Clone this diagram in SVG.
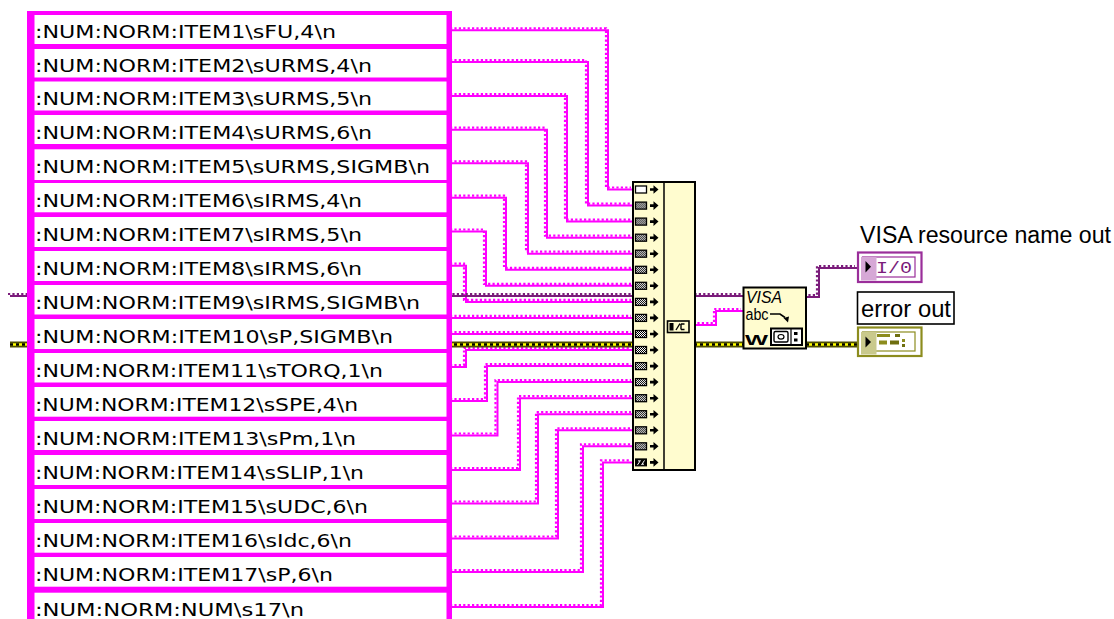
<svg xmlns="http://www.w3.org/2000/svg" xmlns:xlink="http://www.w3.org/1999/xlink" width="1114" height="619" viewBox="0 0 1114 619">
<style>
.sb{fill:none;stroke:#FF00FF;stroke-width:2}
.sd{fill:none;stroke:#FF00FF;stroke-width:2.2;stroke-dasharray:2.2 2.2}
.vb{fill:none;stroke:#7B1C7B;stroke-width:2}
.vd{fill:none;stroke:#7B1C7B;stroke-width:2.2;stroke-dasharray:2.2 2.2}
.eo{fill:none;stroke:#4E4E00;stroke-width:6}
.ey{fill:none;stroke:#FFFF00;stroke-width:2.4}
.ek{fill:none;stroke:#000;stroke-width:2.4;stroke-dasharray:3 3}
.row{fill:#fff}
.txt{font-family:"DejaVu Sans","Liberation Sans",sans-serif;font-size:18px;fill:#000}
.lbl{font-family:"Liberation Sans",Arial,sans-serif;font-size:23px;fill:#000}
.node{fill:#FFFCCF;stroke:#000;stroke-width:2}
</style>
<defs>
<pattern id="chk" width="2" height="2" patternUnits="userSpaceOnUse">
<rect width="2" height="2" fill="#000"/>
<rect width="1" height="1" fill="#fff"/>
<rect x="1" y="1" width="1" height="1" fill="#fff"/>
</pattern>
<path id="arr" d="M15,-1.3 h3.5 v-3 l5,4.3 l-5,4.3 v-3 h-3.5 z" fill="#000"/>
<g id="term">
<rect x="0.5" y="-3.5" width="11" height="7" fill="url(#chk)" stroke="#000" stroke-width="1.3"/>
<use xlink:href="#arr"/>
</g>
<path id="w1" d="M452,30.3 H608 V189.5 H633"/>
<path id="w2" d="M452,62 H588 V205.6 H633"/>
<path id="w3" d="M452,96 H567 V221.6 H633"/>
<path id="w4" d="M452,129.7 H547 V237.7 H633"/>
<path id="w5" d="M452,163.3 H528 V253.7 H633"/>
<path id="w6" d="M452,197.7 H506 V269.8 H633"/>
<path id="w7" d="M452,231.5 H486 V285.8 H633"/>
<path id="w8" d="M452,265.7 H466 V301.9 H633"/>
<path id="w9" d="M452,317.9 H633"/>
<path id="w10" d="M452,334 H633"/>
<path id="w11" d="M452,367 H466 V350 H633"/>
<path id="w12" d="M452,401 H487 V366.1 H633"/>
<path id="w13" d="M452,435.5 H497.5 V382.1 H633"/>
<path id="w14" d="M452,470 H520 V398.2 H633"/>
<path id="w15" d="M452,503.5 H538 V414.2 H633"/>
<path id="w16" d="M452,538.5 H558 V430.3 H633"/>
<path id="w17" d="M452,572 H583 V446.3 H633"/>
<path id="w18" d="M452,607 H603 V462.4 H633"/>
<path id="wo" d="M695,325 H716 V311 H743"/>
<path id="wv" d="M10,296 H743"/>
<path id="wv2" d="M806,297 H819 V268 H857"/>
<path id="we" d="M10,344.5 H743"/>
<path id="we2" d="M806,344.5 H857"/>
</defs>
<rect width="1114" height="619" fill="#fff"/>

<g id="connectors">
<use xlink:href="#w1" class="sb"/><use xlink:href="#w1" class="sd" transform="translate(-2,-2)"/>
<use xlink:href="#w2" class="sb"/><use xlink:href="#w2" class="sd" transform="translate(-2,-2)"/>
<use xlink:href="#w3" class="sb"/><use xlink:href="#w3" class="sd" transform="translate(-2,-2)"/>
<use xlink:href="#w4" class="sb"/><use xlink:href="#w4" class="sd" transform="translate(-2,-2)"/>
<use xlink:href="#w5" class="sb"/><use xlink:href="#w5" class="sd" transform="translate(-2,-2)"/>
<use xlink:href="#w6" class="sb"/><use xlink:href="#w6" class="sd" transform="translate(-2,-2)"/>
<use xlink:href="#w7" class="sb"/><use xlink:href="#w7" class="sd" transform="translate(-2,-2)"/>
<use xlink:href="#w8" class="sb"/><use xlink:href="#w8" class="sd" transform="translate(-2,-2)"/>
<use xlink:href="#w9" class="sb"/><use xlink:href="#w9" class="sd" transform="translate(-2,-2)"/>
<use xlink:href="#w10" class="sb"/><use xlink:href="#w10" class="sd" transform="translate(-2,-2)"/>
<use xlink:href="#w11" class="sb"/><use xlink:href="#w11" class="sd" transform="translate(-2,-2)"/>
<use xlink:href="#w12" class="sb"/><use xlink:href="#w12" class="sd" transform="translate(-2,-2)"/>
<use xlink:href="#w13" class="sb"/><use xlink:href="#w13" class="sd" transform="translate(-2,-2)"/>
<use xlink:href="#w14" class="sb"/><use xlink:href="#w14" class="sd" transform="translate(-2,-2)"/>
<use xlink:href="#w15" class="sb"/><use xlink:href="#w15" class="sd" transform="translate(-2,-2)"/>
<use xlink:href="#w16" class="sb"/><use xlink:href="#w16" class="sd" transform="translate(-2,-2)"/>
<use xlink:href="#w17" class="sb"/><use xlink:href="#w17" class="sd" transform="translate(-2,-2)"/>
<use xlink:href="#w18" class="sb"/><use xlink:href="#w18" class="sd" transform="translate(-2,-2)"/>
<use xlink:href="#wo" class="sb"/><use xlink:href="#wo" class="sd" transform="translate(-2,-2)"/>
<use xlink:href="#wv" class="vb"/><use xlink:href="#wv" class="vd" transform="translate(-2,-2)"/>
<use xlink:href="#wv2" class="vb"/><use xlink:href="#wv2" class="vd" transform="translate(-2,-2)"/>
<use xlink:href="#we" class="eo"/><use xlink:href="#we" class="ey"/><use xlink:href="#we" class="ek"/>
<use xlink:href="#we2" class="eo"/><use xlink:href="#we2" class="ey"/><use xlink:href="#we2" class="ek"/>
</g>

<g id="string-constants">
<rect x="27" y="11" width="425" height="615" fill="#FF00FF"/>
<g id="s1"><rect class="row" x="34.5" y="15" width="412" height="29"/><text class="txt" x="35" y="38" textLength="301" lengthAdjust="spacingAndGlyphs">:NUM:NORM:ITEM1\sFU,4\n</text></g>
<g id="s2"><rect class="row" x="34.5" y="49" width="412" height="28.5"/><text class="txt" x="35" y="71.5" textLength="337" lengthAdjust="spacingAndGlyphs">:NUM:NORM:ITEM2\sURMS,4\n</text></g>
<g id="s3"><rect class="row" x="34.5" y="81.5" width="412" height="29"/><text class="txt" x="35" y="104.5" textLength="337" lengthAdjust="spacingAndGlyphs">:NUM:NORM:ITEM3\sURMS,5\n</text></g>
<g id="s4"><rect class="row" x="34.5" y="115" width="412" height="29"/><text class="txt" x="35" y="138.5" textLength="337" lengthAdjust="spacingAndGlyphs">:NUM:NORM:ITEM4\sURMS,6\n</text></g>
<g id="s5"><rect class="row" x="34.5" y="149.3" width="412" height="30.7"/><text class="txt" x="35" y="172.5" textLength="395" lengthAdjust="spacingAndGlyphs">:NUM:NORM:ITEM5\sURMS,SIGMB\n</text></g>
<g id="s6"><rect class="row" x="34.5" y="183" width="412" height="29.3"/><text class="txt" x="35" y="206.5" textLength="327" lengthAdjust="spacingAndGlyphs">:NUM:NORM:ITEM6\sIRMS,4\n</text></g>
<g id="s7"><rect class="row" x="34.5" y="217" width="412" height="30"/><text class="txt" x="35" y="240.5" textLength="327" lengthAdjust="spacingAndGlyphs">:NUM:NORM:ITEM7\sIRMS,5\n</text></g>
<g id="s8"><rect class="row" x="34.5" y="251" width="412" height="30"/><text class="txt" x="35" y="274.5" textLength="327" lengthAdjust="spacingAndGlyphs">:NUM:NORM:ITEM8\sIRMS,6\n</text></g>
<g id="s9"><rect class="row" x="34.5" y="285" width="412" height="29.5"/><text class="txt" x="35" y="308.5" textLength="385" lengthAdjust="spacingAndGlyphs">:NUM:NORM:ITEM9\sIRMS,SIGMB\n</text></g>
<g id="s10"><rect class="row" x="34.5" y="319" width="412" height="30"/><text class="txt" x="35" y="342.5" textLength="358" lengthAdjust="spacingAndGlyphs">:NUM:NORM:ITEM10\sP,SIGMB\n</text></g>
<g id="s11"><rect class="row" x="34.5" y="353" width="412" height="29.5"/><text class="txt" x="35" y="376.5" textLength="348" lengthAdjust="spacingAndGlyphs">:NUM:NORM:ITEM11\sTORQ,1\n</text></g>
<g id="s12"><rect class="row" x="34.5" y="387" width="412" height="29.7"/><text class="txt" x="35" y="410.5" textLength="323" lengthAdjust="spacingAndGlyphs">:NUM:NORM:ITEM12\sSPE,4\n</text></g>
<g id="s13"><rect class="row" x="34.5" y="421" width="412" height="29"/><text class="txt" x="35" y="444.5" textLength="321" lengthAdjust="spacingAndGlyphs">:NUM:NORM:ITEM13\sPm,1\n</text></g>
<g id="s14"><rect class="row" x="34.5" y="455" width="412" height="30"/><text class="txt" x="35" y="478.5" textLength="329" lengthAdjust="spacingAndGlyphs">:NUM:NORM:ITEM14\sSLIP,1\n</text></g>
<g id="s15"><rect class="row" x="34.5" y="489" width="412" height="30"/><text class="txt" x="35" y="512.5" textLength="333" lengthAdjust="spacingAndGlyphs">:NUM:NORM:ITEM15\sUDC,6\n</text></g>
<g id="s16"><rect class="row" x="34.5" y="523" width="412" height="29.7"/><text class="txt" x="35" y="546.5" textLength="317" lengthAdjust="spacingAndGlyphs">:NUM:NORM:ITEM16\sIdc,6\n</text></g>
<g id="s17"><rect class="row" x="34.5" y="557" width="412" height="29.7"/><text class="txt" x="35" y="580.5" textLength="298" lengthAdjust="spacingAndGlyphs">:NUM:NORM:ITEM17\sP,6\n</text></g>
<g id="s18"><rect class="row" x="34.5" y="592.7" width="412" height="40"/><text class="txt" x="35" y="616" textLength="269" lengthAdjust="spacingAndGlyphs">:NUM:NORM:NUM\s17\n</text></g>
</g>

<g id="concatenate">
<rect class="node" x="633" y="182" width="62" height="288"/>
<line x1="664" y1="182" x2="664" y2="470" stroke="#000" stroke-width="1.5"/>
<g transform="translate(635,189.5)"><rect x="0.5" y="-3.5" width="11" height="7" fill="#fff" stroke="#000" stroke-width="1.3"/><use xlink:href="#arr"/></g>
<use xlink:href="#term" x="635" y="205.6"/>
<use xlink:href="#term" x="635" y="221.6"/>
<use xlink:href="#term" x="635" y="237.7"/>
<use xlink:href="#term" x="635" y="253.7"/>
<use xlink:href="#term" x="635" y="269.8"/>
<use xlink:href="#term" x="635" y="285.8"/>
<use xlink:href="#term" x="635" y="301.9"/>
<use xlink:href="#term" x="635" y="317.9"/>
<use xlink:href="#term" x="635" y="334"/>
<use xlink:href="#term" x="635" y="350"/>
<use xlink:href="#term" x="635" y="366.1"/>
<use xlink:href="#term" x="635" y="382.1"/>
<use xlink:href="#term" x="635" y="398.2"/>
<use xlink:href="#term" x="635" y="414.2"/>
<use xlink:href="#term" x="635" y="430.3"/>
<use xlink:href="#term" x="635" y="446.3"/>
<g transform="translate(635,462.4)"><rect x="0.5" y="-3.5" width="11" height="7" fill="#000" stroke="#000" stroke-width="1"/><path d="M2.5,2.5 L5.5,-2 M6.5,2.5 L9.5,-2 M3,-1.5 h2 M7,1.8 h2" stroke="#fff" stroke-width="1" fill="none"/><use xlink:href="#arr"/></g>
<g id="concat-out">
<rect x="667.5" y="321" width="21.5" height="11.5" fill="#FFFCCF" stroke="#000" stroke-width="1.6"/>
<rect x="669.5" y="323" width="4" height="7.5" fill="#000"/>
<path d="M676,330 L680,323.5 M681,324 h3.5 M681,329.5 h3.5 M681,324 v5.5" stroke="#000" stroke-width="1.4" fill="none"/>
</g>
</g>

<g id="visa-write">
<rect class="node" x="743.5" y="287.5" width="62.5" height="61"/>
<text x="746" y="302.5" font-family="Liberation Sans,Arial,sans-serif" font-size="17" font-style="italic" fill="#000" textLength="36" lengthAdjust="spacingAndGlyphs">VISA</text>
<text x="745.5" y="319.5" font-family="Liberation Sans,Arial,sans-serif" font-size="16" fill="#000" textLength="23" lengthAdjust="spacingAndGlyphs">abc</text>
<path d="M770,314 H780 L785,317.5" stroke="#000" stroke-width="1.6" fill="none"/>
<path d="M783.5,318 L789,316.5 L788,322.5 Z" fill="#000"/>
<text x="745" y="344.5" font-family="Liberation Sans,Arial,sans-serif" font-size="15" font-weight="bold" fill="#000" textLength="23" lengthAdjust="spacingAndGlyphs">W</text>
<rect x="771" y="328.5" width="31" height="16.5" fill="#fff" stroke="#000" stroke-width="2"/>
<rect x="774" y="331.5" width="14" height="10.5" rx="1.5" fill="#fff" stroke="#000" stroke-width="1.4"/>
<ellipse cx="781" cy="336.8" rx="3" ry="2.3" fill="none" stroke="#000" stroke-width="1.2"/>
<line x1="791" y1="329" x2="791" y2="344.5" stroke="#000" stroke-width="1.2"/>
<rect x="794" y="332" width="3.5" height="3" fill="#000"/>
<rect x="794" y="338.5" width="3.5" height="3" fill="#000"/>
</g>

<g id="visa-resource-out">
<text class="lbl" x="860" y="243" textLength="251" lengthAdjust="spacingAndGlyphs">VISA resource name out</text>
<rect x="858" y="252.5" width="63.5" height="29.5" fill="#fff" stroke="#9A2E9A" stroke-width="2.2"/>
<rect x="862.5" y="257" width="52.5" height="20" fill="#fff" stroke="#9A2E9A" stroke-width="1.2"/>
<rect x="861" y="257" width="15.5" height="23.5" fill="#D6A8D6"/>
<path d="M865.5,261 L871,266.8 L865.5,272.5 Z" fill="#000"/>
<text x="876" y="273" font-family="Liberation Mono,monospace" font-size="16" fill="#7B1C7B" textLength="36" lengthAdjust="spacingAndGlyphs">I/0</text>
</g>

<g id="error-out">
<rect x="857.5" y="292" width="96.5" height="32" fill="#fff" stroke="#000" stroke-width="1.6"/>
<text class="lbl" x="861" y="316.5" textLength="90" lengthAdjust="spacingAndGlyphs">error out</text>
<rect x="858" y="327.5" width="63.5" height="28.5" fill="#fff" stroke="#8C8C1E" stroke-width="2.2"/>
<rect x="862.5" y="332" width="52.5" height="19" fill="#fff" stroke="#8C8C1E" stroke-width="1.2"/>
<rect x="861" y="332" width="15.5" height="22.5" fill="#C9C98C"/>
<path d="M865.5,336.5 L871,342 L865.5,347.5 Z" fill="#000"/>
<rect x="877" y="334" width="13" height="3" fill="#8C8C1E"/>
<rect x="895" y="334" width="5" height="3" fill="#6E6E10"/>
<rect x="879" y="340.5" width="8" height="4" fill="#8C8C1E"/>
<rect x="890" y="340.5" width="9" height="4" fill="#6E6E10"/>
<rect x="902" y="339" width="3" height="3" fill="#8C8C1E"/>
<rect x="902" y="344" width="3" height="3" fill="#6E6E10"/>
</g>
</svg>
